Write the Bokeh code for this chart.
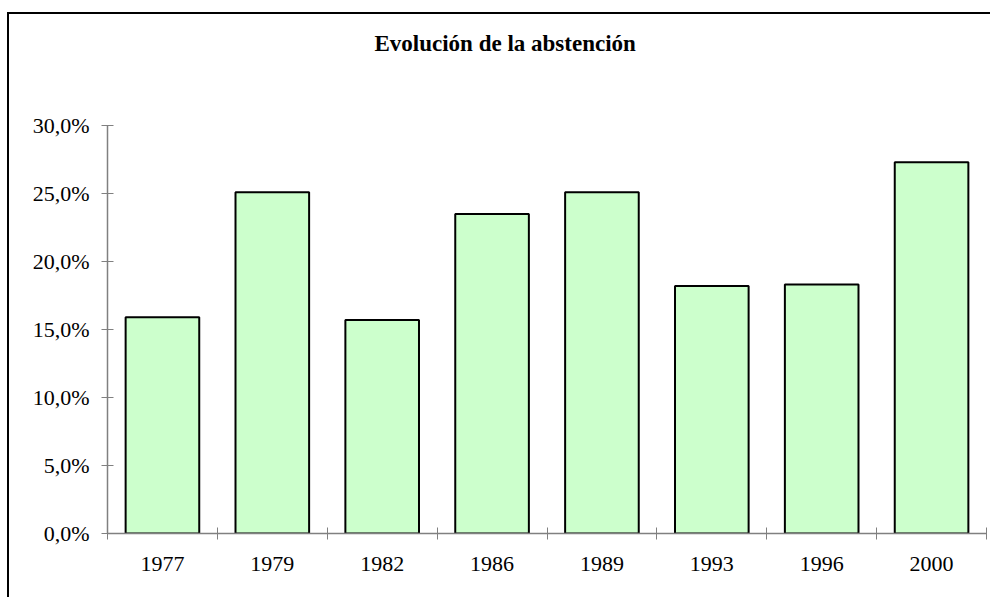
from bokeh.plotting import figure
from bokeh.models import ColumnDataSource, FixedTicker, Range1d, Title
from bokeh.embed import file_html
from bokeh.resources import INLINE

# ---- data ----
years = ["1977", "1979", "1982", "1986", "1989", "1993", "1996", "2000"]
abstention = [15.9, 25.1, 15.7, 23.5, 25.1, 18.2, 18.3, 27.3]
y_ticks = [0, 5, 10, 15, 20, 25, 30]
y_tick_labels = ["0,0%", "5,0%", "10,0%", "15,0%", "20,0%", "25,0%", "30,0%"]
title_text = "Evolución de la abstención"

centers = [i + 0.5 for i in range(len(years))]
bounds = [i for i in range(len(years) + 1)]

src = ColumnDataSource(data=dict(x=centers, top=abstention, year=years))

FONT = "Liberation Serif"

p = figure(width=983, height=585, output_backend="svg", toolbar_location=None,
           x_range=Range1d(0, len(years)), y_range=Range1d(0, 30),
           min_border_left=98, min_border_right=6, min_border_bottom=66,
           min_border_top=111)
p.title = None
# spacer between plot area and title (closest to frame)
spacer = Title(text=" ", text_font_size="1px", standoff=62)
p.add_layout(spacer, "above")
t = Title(text=title_text, align="left", offset=267, standoff=10,
          vertical_align="bottom",
          text_font=FONT, text_font_size="23px", text_font_style="bold",
          text_color="black")
p.add_layout(t, "above")

p.styles = {"border-top": "2px solid black", "border-left": "2px solid black",
            "margin-top": "12px", "margin-left": "7px"}

p.vbar(x="x", top="top", width=0.67, bottom=0, source=src,
       fill_color="#CCFFCC", line_color="black", line_width=2)

p.xgrid.visible = False
p.ygrid.visible = False
p.outline_line_color = None
p.background_fill_color = "white"
p.border_fill_color = "white"

# x axis: labels at centres, ticks at category boundaries
xa = p.xaxis[0]
xa.ticker = FixedTicker(ticks=centers, minor_ticks=bounds)
xa.major_label_overrides = {c: y for c, y in zip(centers, years)}
xa.major_tick_in = 0
xa.major_tick_out = 0
xa.minor_tick_in = 6
xa.minor_tick_out = 6
xa.minor_tick_line_color = "#808080"
xa.axis_line_color = "#808080"
xa.axis_line_width = 1.5
xa.major_label_standoff = 17
xa.major_label_text_font = FONT
xa.major_label_text_font_size = "22px"
xa.major_label_text_color = "black"

ya = p.yaxis[0]
ya.ticker = FixedTicker(ticks=y_ticks)
ya.major_label_overrides = {v: l for v, l in zip(y_ticks, y_tick_labels)}
ya.major_tick_in = 6
ya.major_tick_out = 6
ya.minor_tick_line_color = None
ya.major_tick_line_color = "#808080"
ya.axis_line_color = "#808080"
ya.axis_line_width = 1.5
ya.major_label_standoff = 12
ya.major_label_text_font = FONT
ya.major_label_text_font_size = "22px"
ya.major_label_text_color = "black"

open("out.html", "w").write(file_html(p, INLINE))
